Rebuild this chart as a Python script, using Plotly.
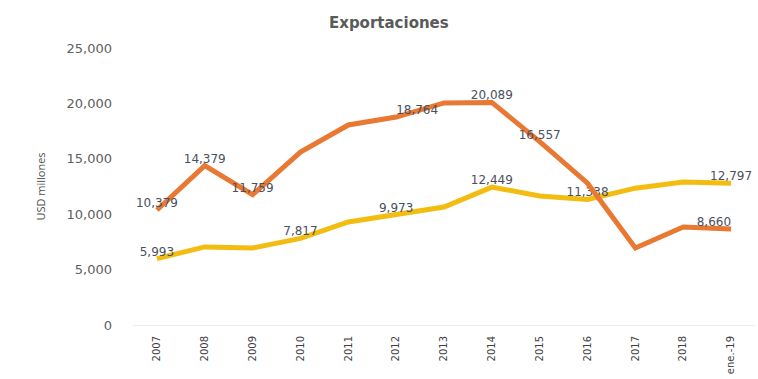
import plotly.graph_objects as go

# Years / periods on the horizontal axis
periodos = ["2007", "2008", "2009", "2010", "2011", "2012", "2013",
            "2014", "2015", "2016", "2017", "2018", "ene.-19"]

# Export values, USD millions
serie_naranja = [10379, 14379, 11759, 15600, 18050, 18764, 20040,
                 20089, 16557, 12800, 6950, 8850, 8660]
serie_amarilla = [5993, 7050, 6950, 7817, 9300, 9973, 10650,
                  12449, 11650, 11338, 12350, 12900, 12797]

# Which points carry a value label
etiq_naranja = [True, True, True, False, False, True, False,
                True, True, False, False, False, True]
etiq_amarilla = [True, False, False, True, False, True, False,
                 True, False, True, False, False, True]

pos_naranja = ["top center", "top center", "top center", "top center", "top center",
               "top right", "top center", "top center", "top center", "top center",
               "top center", "top center", "top left"]
pos_amarilla = ["top center"] * 13


def fmt(v):
    return f"{v:,}"


txt_n = [fmt(v) if s else "" for v, s in zip(serie_naranja, etiq_naranja)]
txt_a = [fmt(v) if s else "" for v, s in zip(serie_amarilla, etiq_amarilla)]

fig = go.Figure()
fig.add_trace(go.Scatter(
    x=periodos, y=serie_amarilla, mode="lines+text",
    line=dict(color="#F2BC10", width=5),
    text=txt_a, textposition=pos_amarilla,
    textfont=dict(family="DejaVu Sans", size=12, color="#4A5060"),
    showlegend=False, cliponaxis=False,
))
fig.add_trace(go.Scatter(
    x=periodos, y=serie_naranja, mode="lines+text",
    line=dict(color="#E87832", width=5),
    text=txt_n, textposition=pos_naranja,
    textfont=dict(family="DejaVu Sans", size=12, color="#4A5060"),
    showlegend=False, cliponaxis=False,
))

fig.update_layout(
    width=758, height=379,
    margin=dict(l=133, r=3, t=48, b=54),
    paper_bgcolor="white", plot_bgcolor="white",
    title=dict(text="Exportaciones", x=0.513, y=0.955, xanchor="center",
               font=dict(family="DejaVu Sans", size=15, color="#5A5A5A", weight="bold")),
    xaxis=dict(
        type="category", range=[-0.5, 12.5],
        tickangle=-90, showgrid=False,
        showline=True, linecolor="#EDEDED", linewidth=1,
        tickfont=dict(family="DejaVu Sans", size=10, color="#404040"),
        ticks="", ticklabelstandoff=6,
    ),
    yaxis=dict(
        range=[0, 25000], tickvals=[0, 5000, 10000, 15000, 20000, 25000],
        ticktext=["0", "5,000", "10,000", "15,000", "20,000", "25,000"],
        showgrid=False, zeroline=False,
        tickfont=dict(family="DejaVu Sans", size=13, color="#606060"),
        ticklabelstandoff=20,
        title=dict(text="USD millones", standoff=18,
                   font=dict(family="Open Sans", size=11, color="#505050")),
    ),
)

fig.write_html("out.html")
